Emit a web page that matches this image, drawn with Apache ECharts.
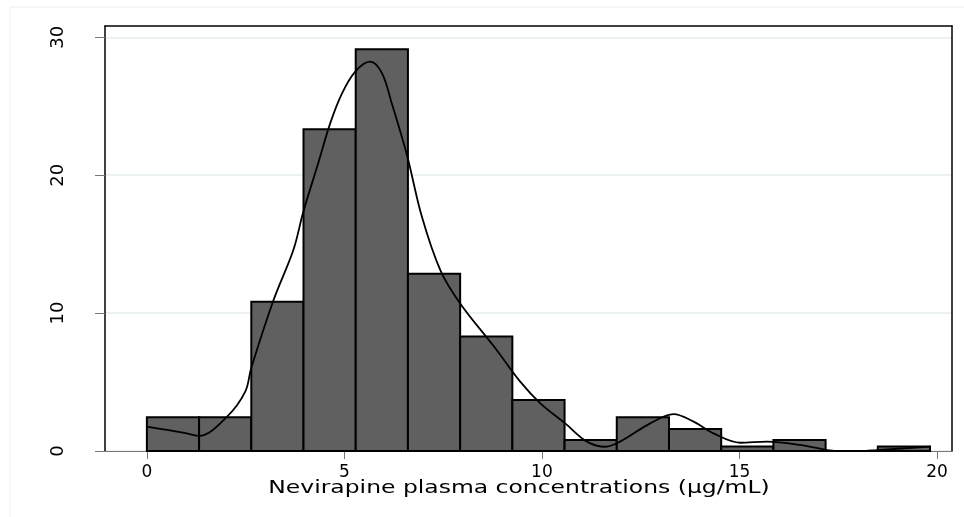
<!DOCTYPE html>
<html>
<head>
<meta charset="utf-8">
<script src="https://cdn.jsdelivr.net/npm/echarts@6/dist/echarts.min.js"></script>
<style>html,body{margin:0;padding:0;background:#fff}#c{width:964px;height:517px}</style>
</head>
<body>
<div id="c"></div>
<script>
// Histogram bins (lower edges) and heights
const binWidth = 1.3216;
const binLefts = [0, 1.3216, 2.6432, 3.9648, 5.2864, 6.608, 7.9296, 9.2512, 10.5728, 11.8944, 13.216, 14.5376, 15.8592, 17.1808, 18.5024];
const binHeights = [2.45, 2.45, 10.82, 23.33, 29.13, 12.85, 8.3, 3.7, 0.8, 2.45, 1.6, 0.33, 0.8, 0, 0.33];
// Kernel density overlay
const densityX = [0, 0.42, 1.01, 1.32, 2.03, 2.49, 2.64, 3.2, 3.71, 3.96, 4.34, 4.64, 4.94, 5.27, 5.65, 5.95, 6.20, 6.58, 6.96, 7.43, 7.93, 8.82, 9.45, 9.96, 10.59, 11.14, 11.61, 11.98, 12.74, 13.33, 13.84, 14.34, 15.02, 15.70, 16.54, 17.22, 17.64, 18.06, 18.48, 19.83];
const densityY = [1.76, 1.57, 1.28, 1.09, 2.49, 4.3, 6.0, 10.9, 14.6, 17.35, 20.9, 23.76, 25.94, 27.5, 28.23, 27.4, 25.2, 21.5, 17.0, 13.1, 10.7, 7.45, 5.03, 3.46, 2.0, 0.68, 0.31, 0.68, 2.0, 2.68, 2.13, 1.28, 0.6, 0.68, 0.44, 0.07, 0, 0, 0.07, 0.31];
// Axis ticks
const xTicks = [0, 5, 10, 15, 20];
const yTicks = [0, 10, 20, 30];
const xTitle = 'Nevirapine plasma concentrations (µg/mL)';

const FONT = 'DejaVu Sans';
const chart = echarts.init(document.getElementById('c'), null, {renderer: 'canvas'});
const barData = binLefts.map((l, i) => [l, l + binWidth, binHeights[i]]);
const lineData = densityX.map((x, i) => [x, densityY[i]]);

chart.setOption({
  animation: false,
  backgroundColor: '#ffffff',
  grid: {left: 105, right: 12, top: 26, bottom: 66, show: false},
  graphic: [
    {type: 'rect', silent: true, z: -10, shape: {x: 10, y: 7, width: 980, height: 540},
     style: {fill: 'none', stroke: '#eeeeee', lineWidth: 1}},
    {type: 'text', silent: true, x: 519, y: 489, scaleX: 1.38, scaleY: 1,
     style: {text: xTitle, x: 0, y: 0, align: 'center', verticalAlign: 'middle',
             font: '17px "DejaVu Sans"', fill: '#000'}}
  ],
  xAxis: [{
    type: 'value', min: -1.06, max: 20.38, position: 'bottom',
    axisLine: {show: true, onZero: false, lineStyle: {color: '#777', width: 1}},
    axisTick: {show: true, length: 8, customValues: xTicks, lineStyle: {color: '#777'}},
    axisLabel: {customValues: xTicks, margin: 13, fontSize: 17, fontFamily: FONT, color: '#000'},
    splitLine: {show: false}
  }, {
    type: 'value', min: -1.06, max: 20.38, position: 'top',
    axisLine: {show: true, onZero: false, lineStyle: {color: '#000', width: 1.5}},
    axisTick: {show: false}, axisLabel: {show: false}, splitLine: {show: false}
  }],
  yAxis: [{
    type: 'value', min: 0, max: 30.82, interval: 10, position: 'left',
    axisLine: {show: true, onZero: false, lineStyle: {color: '#000', width: 1.5}},
    axisTick: {show: true, length: 10, customValues: yTicks, lineStyle: {color: '#777'}},
    axisLabel: {customValues: yTicks, rotate: 90, margin: 38, fontSize: 18, fontFamily: FONT, color: '#000'},
    splitLine: {show: true, lineStyle: {color: '#e6eef0', width: 1.5}}
  }, {
    type: 'value', min: 0, max: 30.82, position: 'right',
    axisLine: {show: true, onZero: false, lineStyle: {color: '#000', width: 1.5}},
    axisTick: {show: false}, axisLabel: {show: false}, splitLine: {show: false}
  }],
  series: [{
    type: 'custom', xAxisIndex: 0, yAxisIndex: 0, z: 2,
    data: barData,
    renderItem: function (params, api) {
      const p0 = api.coord([api.value(0), 0]);
      const p1 = api.coord([api.value(1), api.value(2)]);
      return {
        type: 'rect',
        shape: {x: p0[0], y: p1[1], width: p1[0] - p0[0], height: p0[1] - p1[1]},
        style: {fill: '#606060', stroke: '#000', lineWidth: 2}
      };
    }
  }, {
    type: 'line', xAxisIndex: 0, yAxisIndex: 0, z: 3,
    data: lineData, smooth: 0.35, showSymbol: false, symbol: 'none',
    lineStyle: {color: '#000', width: 1.8}
  }]
});
</script>
</body>
</html>
